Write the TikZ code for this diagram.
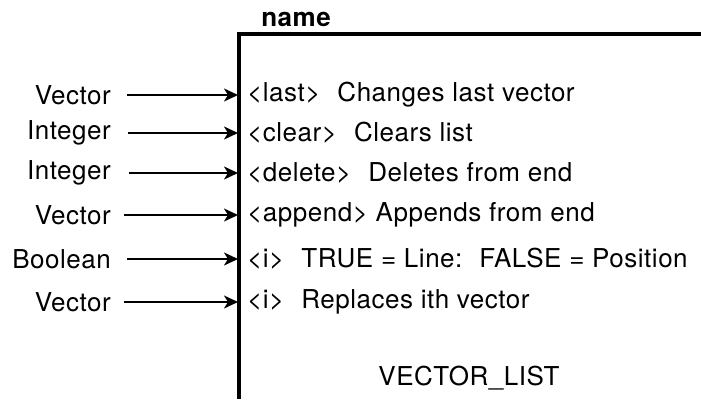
\documentclass[tikz,border=0pt]{standalone}
\usepackage{fontspec}
\setmainfont[LetterSpace=2]{TeX Gyre Heros}
\usetikzlibrary{arrows.meta}
\newcommand{\gapw}{\hspace{17pt}}
\begin{document}
\begin{tikzpicture}[x=1pt,y=-1pt,
  lbl/.style={anchor=east,inner sep=0pt,font=\fontsize{26}{29}\selectfont},
  txt/.style={anchor=west,inner sep=0pt,font=\fontsize{26}{29}\selectfont},
  inarrow/.style={line width=1.9pt,-{Stealth[length=14pt,width=13pt,inset=4pt]}},
  boxline/.style={line width=3.3pt}]
\useasboundingbox (0,0) rectangle (701,399);
\draw[boxline] (239,399) -- (239,34) -- (701,34);
\node[anchor=south,inner sep=0pt,font=\fontsize{26}{29}\selectfont\bfseries] (name) at (296,27) {name};
\foreach \y/\l/\t/\s [count=\i] in {95/Vector/{<last>\gapw Changes last vector}/127,
  133/Integer/{<clear>\gapw Clears list}/128,
  173/Integer/{<delete>\gapw Deletes from end}/129,
  215/Vector/{<append> Appends from end}/124,
  259/Boolean/{<i>\gapw TRUE = Line:\gapw FALSE = Position}/127,
  302/Vector/{<i>\gapw Replaces ith vector}/124}{
  \node[lbl] (l\i) at (111,\y) {\l};
  \coordinate (s\i) at (\s,\y);
  \coordinate (e\i) at (238,\y);
  \node[txt] (t\i) at (247,\y) {\t};
  \draw[inarrow] (s\i) -- (e\i);
}
\node[txt,anchor=center] (vl) at (469,378) {VECTOR\_LIST};
\end{tikzpicture}
\end{document}
